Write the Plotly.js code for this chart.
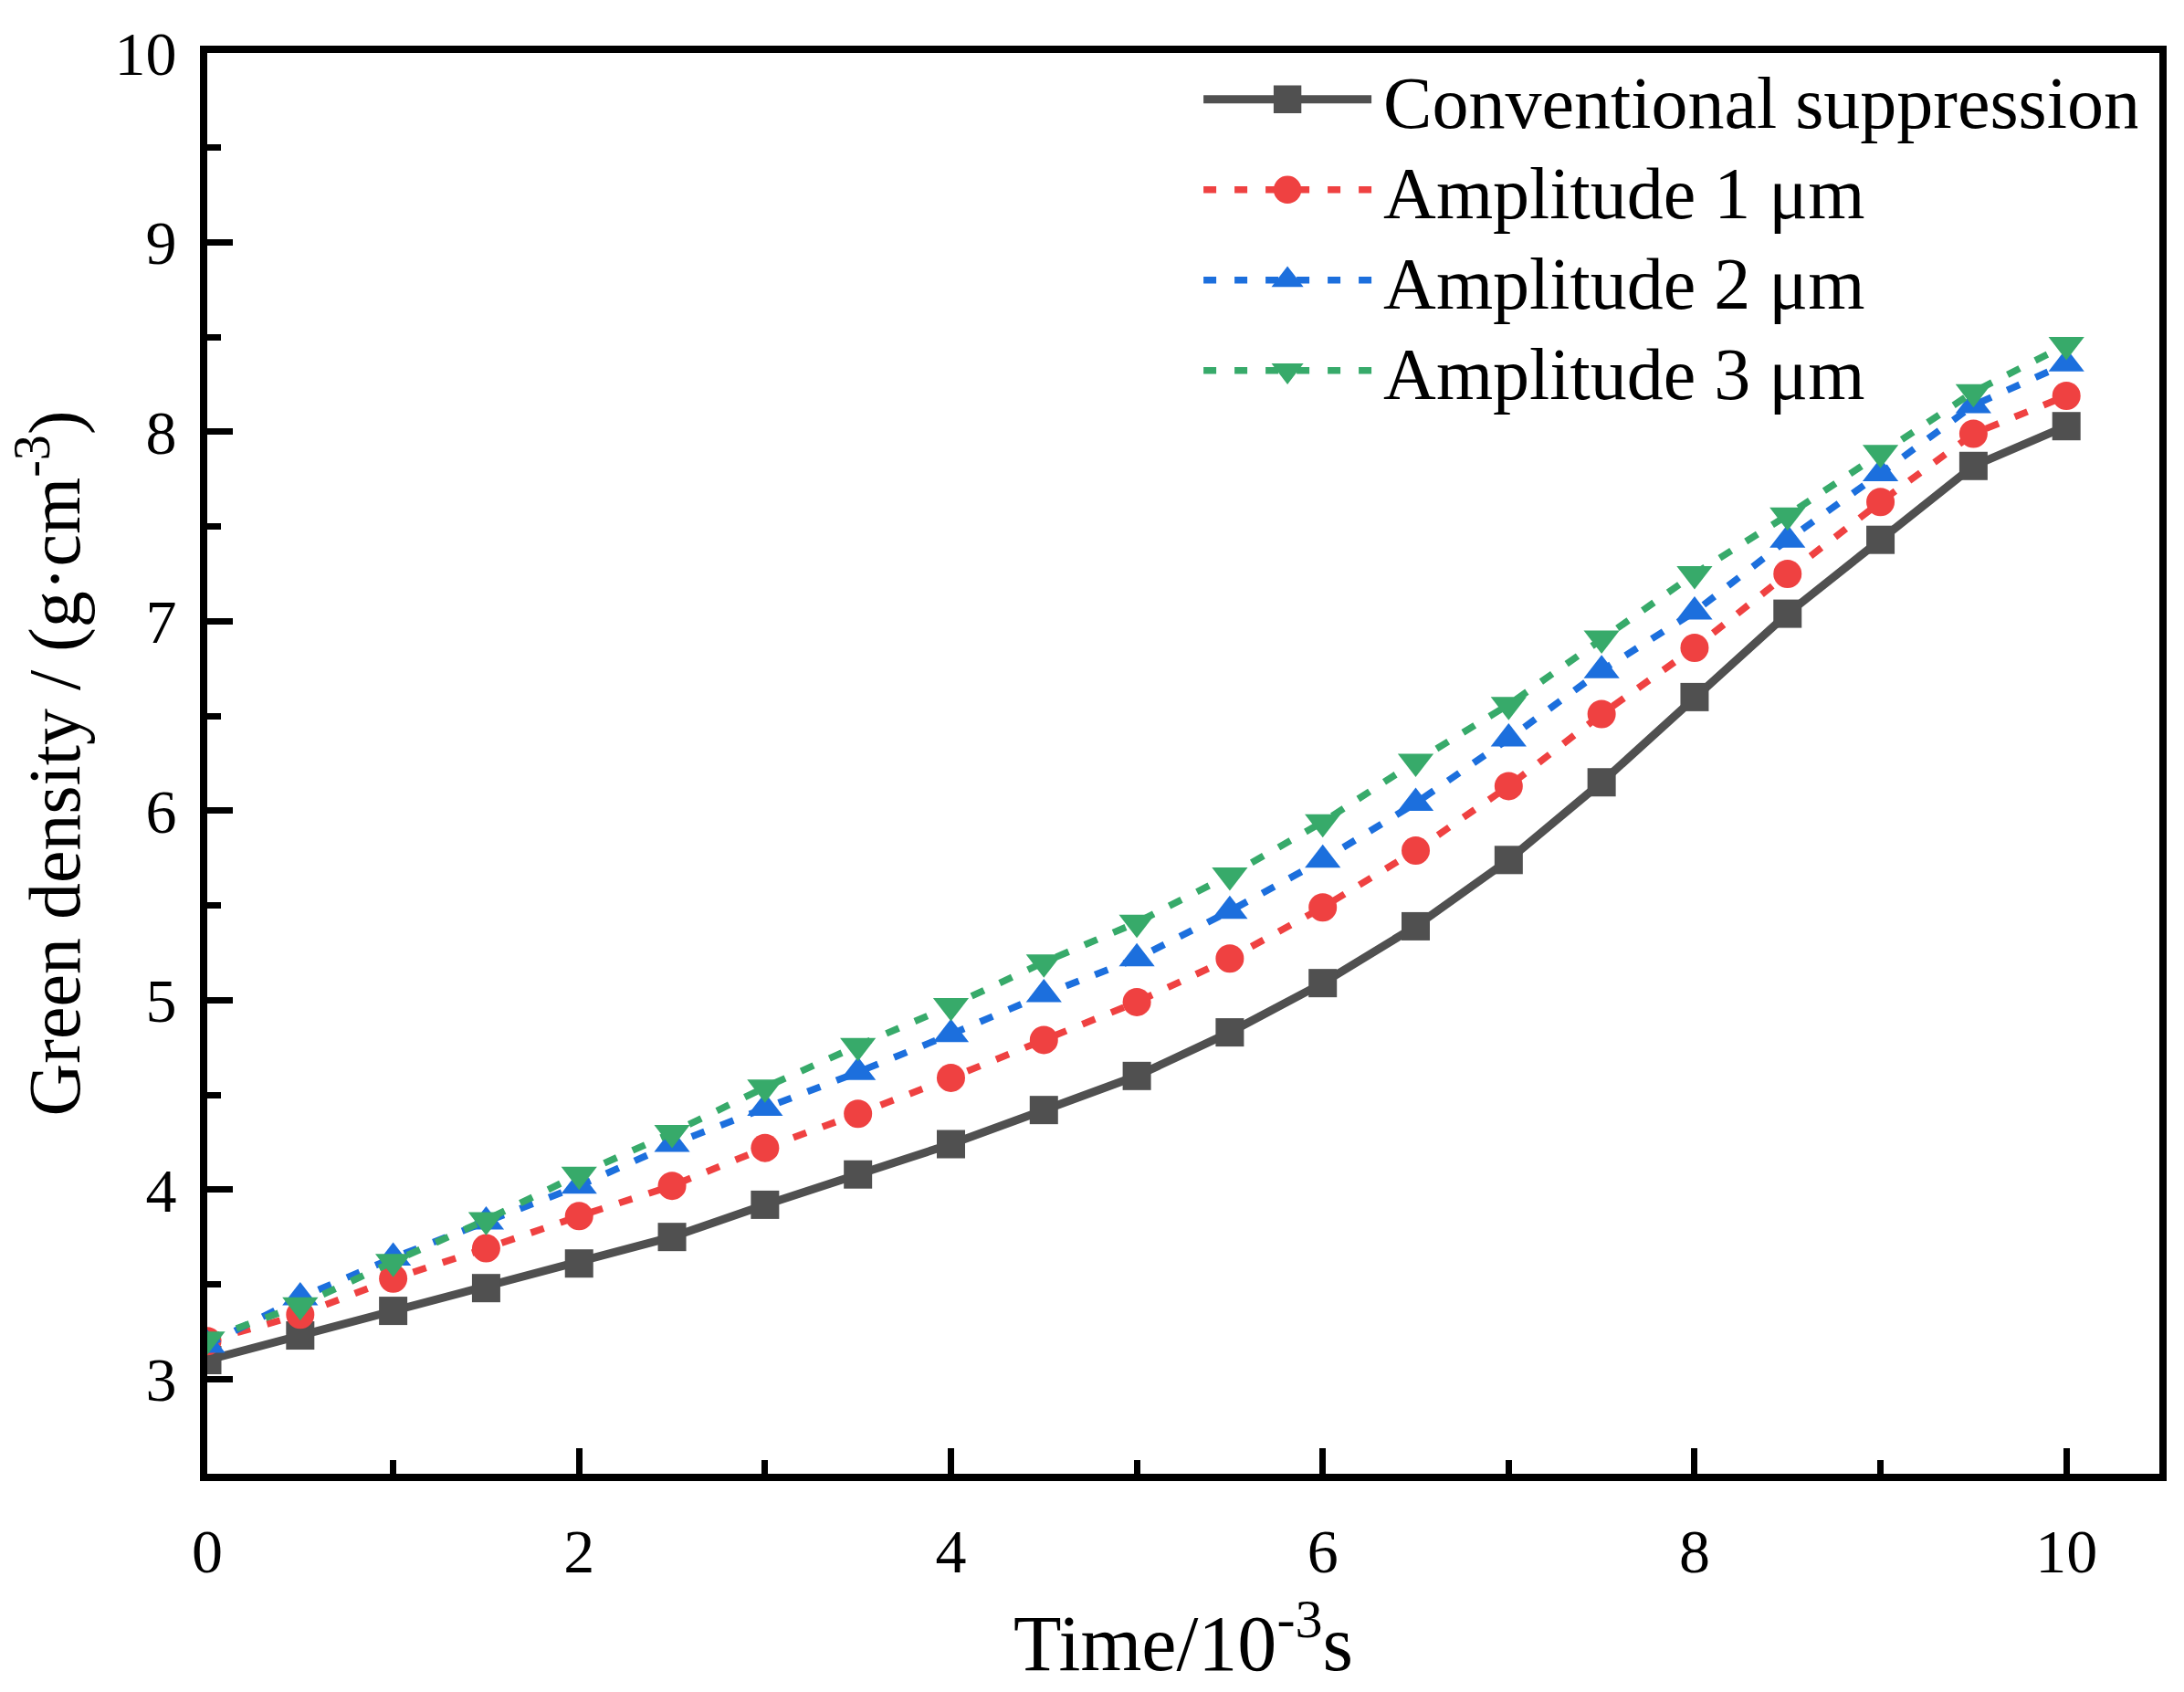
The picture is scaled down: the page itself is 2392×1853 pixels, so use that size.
<!DOCTYPE html>
<html>
<head>
<meta charset="utf-8">
<script src="https://cdn.plot.ly/plotly-3.0.1.min.js"></script>
<style>
  html, body { margin: 0; padding: 0; background: #fff; }
  #chart { width: 2392px; height: 1853px; }
</style>
</head>
<body>
<div id="chart"></div>
<script>
// time in 10^-3 s
var timeMs = [0, 0.5, 1, 1.5, 2, 2.5, 3, 3.5, 4, 4.5, 5, 5.5, 6, 6.5, 7, 7.5, 8, 8.5, 9, 9.5, 10];

// green density, g/cm^3
var conventional = [3.10, 3.23, 3.36, 3.48, 3.61, 3.75, 3.92, 4.08, 4.24, 4.42, 4.60, 4.83, 5.09, 5.39, 5.74, 6.15, 6.60, 7.04, 7.43, 7.82, 8.03];
var amp1 = [3.20, 3.34, 3.53, 3.69, 3.86, 4.02, 4.22, 4.40, 4.59, 4.79, 4.99, 5.22, 5.49, 5.79, 6.13, 6.51, 6.86, 7.25, 7.63, 7.99, 8.19];
var amp2 = [3.18, 3.43, 3.64, 3.83, 4.02, 4.24, 4.43, 4.62, 4.82, 5.03, 5.22, 5.47, 5.74, 6.04, 6.38, 6.74, 7.05, 7.43, 7.78, 8.14, 8.36];
var amp3 = [3.21, 3.39, 3.62, 3.84, 4.08, 4.30, 4.54, 4.76, 4.97, 5.20, 5.41, 5.66, 5.94, 6.26, 6.56, 6.91, 7.25, 7.56, 7.89, 8.21, 8.46];

var seriesNames = ["Conventional suppression", "Amplitude 1 μm", "Amplitude 2 μm", "Amplitude 3 μm"];

var serif = "Liberation Serif, Times New Roman, serif";
var dotted = "15px,19px";

var traces = [
  {
    x: timeMs, y: conventional, name: seriesNames[0],
    type: "scatter", mode: "lines+markers",
    line: { color: "#505050", width: 9 },
    marker: { symbol: "square", size: 31, color: "#505050" }
  },
  {
    x: timeMs, y: amp1, name: seriesNames[1],
    type: "scatter", mode: "lines+markers",
    line: { color: "#ef4141", width: 7.5, dash: dotted },
    marker: { symbol: "circle", size: 31, color: "#ef4141" }
  },
  {
    x: timeMs, y: amp2, name: seriesNames[2],
    type: "scatter", mode: "lines+markers",
    line: { color: "#1c6fdd", width: 7.5, dash: dotted },
    marker: { symbol: "triangle-up", size: 34, color: "#1c6fdd" }
  },
  {
    x: timeMs, y: amp3, name: seriesNames[3],
    type: "scatter", mode: "lines+markers",
    line: { color: "#37aa6a", width: 7.5, dash: dotted },
    marker: { symbol: "triangle-down", size: 34, color: "#37aa6a" }
  }
];

var axisCommon = {
  showline: true, mirror: true, linecolor: "#000", linewidth: 8,
  ticks: "inside", ticklen: 28, tickwidth: 7, tickcolor: "#000",
  showgrid: false, zeroline: false,
  tickfont: { family: serif, size: 68, color: "#000" }
};

var minorTicks = { ticks: "inside", ticklen: 15, tickwidth: 7, tickcolor: "#000", showgrid: false };

var layout = {
  width: 2392, height: 1853,
  margin: { l: 227, r: 27, t: 58, b: 239 },
  paper_bgcolor: "#fff", plot_bgcolor: "#fff",
  font: { family: serif, color: "#000" },
  showlegend: true,
  legend: {
    x: 0.508, y: 1.005, xanchor: "left", yanchor: "top",
    bgcolor: "rgba(0,0,0,0)", borderwidth: 0,
    itemwidth: 184, tracegroupgap: 0,
    font: { family: serif, size: 80, color: "#000" }
  },
  xaxis: Object.assign({}, axisCommon, {
    range: [0, 10.5], dtick: 2, tick0: 0,
    minor: Object.assign({ dtick: 1 }, minorTicks),
    ticklabelstandoff: 18,
    title: { text: "Time/10<sup>-3</sup>s", font: { family: serif, size: 86 }, standoff: 36 }
  }),
  yaxis: Object.assign({}, axisCommon, {
    range: [2.5, 10], dtick: 1, tick0: 0,
    minor: Object.assign({ dtick: 0.5 }, minorTicks),
    ticklabelstandoff: 12,
    title: { text: "Green density / (g·cm<sup>-3</sup>)", font: { family: serif, size: 80 }, standoff: 14 }
  })
};

// legend in the original has big symbols, thick dotted keys and tighter rows
function tidyLegend(gd) {
  var rowGap = 99;
  var items = gd.querySelectorAll(".legend .traces");
  var firstY = null;
  items.forEach(function (el, i) {
    var m = /translate\(\s*([-\d.]+)[,\s]+([-\d.]+)\s*\)/.exec(el.getAttribute("transform") || "");
    if (!m) {
      return;
    }
    if (firstY === null) {
      firstY = +m[2];
    }
    el.setAttribute("transform", "translate(" + m[1] + "," + (firstY + i * rowGap) + ")");
    var txt = el.querySelector("text.legendtext");
    if (txt) {
      txt.setAttribute("x", (+txt.getAttribute("x") || 0) + 8);
    }
    el.querySelectorAll(".legendlines path").forEach(function (ln) {
      ln.style.setProperty("stroke-width", i === 0 ? "9px" : "7.5px", "important");
      if (i > 0) {
        ln.style.setProperty("stroke-dasharray", "14px, 20px", "important");
      }
    });
  });
  gd.querySelectorAll(".legend .legendpoints path.scatterpts").forEach(function (p) {
    var t = p.getAttribute("transform") || "";
    p.setAttribute("transform", t + " scale(1.9)");
  });
}

Plotly.newPlot("chart", traces, layout, { displayModeBar: false, staticPlot: true }).then(tidyLegend);
</script>
</body>
</html>
